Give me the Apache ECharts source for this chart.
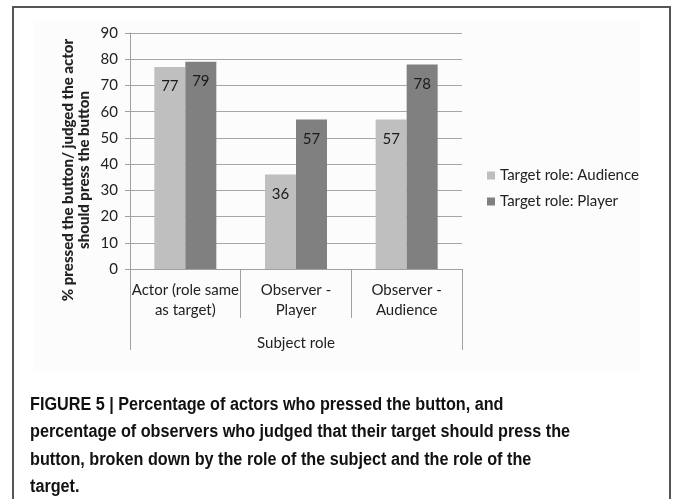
<!DOCTYPE html>
<html>
<head>
<meta charset="utf-8">
<script src="https://cdn.jsdelivr.net/npm/echarts@6/dist/echarts.min.js"></script>
<style>
html,body{margin:0;padding:0;background:#fff;}
#c{width:673px;height:499px;}
</style>
</head>
<body>
<div id="c"></div>
<script>
const categories = ['Actor (role same\nas target)', 'Observer -\nPlayer', 'Observer -\nAudience'];
const outerCategory = ['Subject role'];
const seriesNames = ['Target role: Audience', 'Target role: Player'];
const audienceValues = [77, 36, 57];
const playerValues = [79, 57, 78];
const yTicks = [0, 10, 20, 30, 40, 50, 60, 70, 80, 90];
const yTitle = '% pressed the button/ judged the actor\nshould press the button';
const caption = 'FIGURE 5 | Percentage of actors who pressed the button, and\npercentage of observers who judged that their target should press the\nbutton, broken down by the role of the subject and the role of the\ntarget.';

const font = 'Lato, "Open Sans", sans-serif';
const chart = echarts.init(document.getElementById('c'), null, {renderer: 'canvas'});
chart.setOption({
  animation: false,
  backgroundColor: '#ffffff',
  grid: {left: 130, right: 211, top: 33, bottom: 230, containLabel: false},
  legend: {
    orient: 'vertical', left: 482, top: 163,
    itemWidth: 8, itemHeight: 8, itemGap: 11, icon: 'rect',
    textStyle: {fontFamily: font, fontSize: 15, color: '#222'},
    data: seriesNames
  },
  xAxis: [
    {
      type: 'category', data: categories, position: 'bottom',
      axisLine: {show: true, lineStyle: {color: '#a0a0a0', width: 1}},
      axisTick: {show: true, interval: 0, length: 49, lineStyle: {color: '#a0a0a0'}},
      axisLabel: {interval: 0, margin: 11, fontFamily: font, fontSize: 15, lineHeight: 20, color: '#222'}
    },
    {
      type: 'category', data: outerCategory, position: 'bottom',
      axisLine: {show: false},
      axisTick: {show: true, length: 81, lineStyle: {color: '#a0a0a0'}},
      axisLabel: {margin: 67, fontFamily: font, fontSize: 15, color: '#222'}
    }
  ],
  yAxis: {
    type: 'value', min: yTicks[0], max: yTicks[yTicks.length - 1], interval: 10,
    axisLine: {show: true, lineStyle: {color: '#a0a0a0'}},
    axisTick: {show: true, inside: false, length: 5, lineStyle: {color: '#a0a0a0'}},
    axisLabel: {margin: 12, fontFamily: font, fontSize: 15, color: '#222'},
    splitLine: {show: true, lineStyle: {color: '#a6a6a6', width: 1}}
  },
  series: [
    {
      name: seriesNames[0], type: 'bar', xAxisIndex: 0, data: audienceValues,
      barWidth: 31, barGap: '0%',
      itemStyle: {color: '#bfbfbf'},
      label: {show: true, position: 'insideTop', distance: 12, fontFamily: font, fontSize: 15, color: '#1a1a1a'}
    },
    {
      name: seriesNames[1], type: 'bar', xAxisIndex: 0, data: playerValues,
      barWidth: 31, barGap: '0%',
      itemStyle: {color: '#808080'},
      label: {show: true, position: 'insideTop', distance: 12, fontFamily: font, fontSize: 15, color: '#1a1a1a'}
    }
  ],
  graphic: [
    {type: 'rect', z: -10, shape: {x: 33, y: 20, width: 607, height: 352}, style: {fill: '#fcfcfc'}},
    {type: 'rect', z: 10, shape: {x: 13, y: 7, width: 657, height: 530}, style: {fill: 'none', stroke: '#555', lineWidth: 2}},
    {type: 'text', x: 76, y: 170, rotation: Math.PI / 2, style: {text: yTitle, fontFamily: font, fontWeight: 900, fontSize: 15, lineHeight: 16, align: 'center', verticalAlign: 'middle', fill: '#222'}},
    {type: 'text', x: 30, y: 391, scaleX: 0.9, style: {text: caption, fontFamily: '"Liberation Sans Narrow", "Arial Narrow", "Liberation Sans", sans-serif', fontWeight: 'bold', fontSize: 18, lineHeight: 27.5, fill: '#111'}}
  ]
});
</script>
</body>
</html>
